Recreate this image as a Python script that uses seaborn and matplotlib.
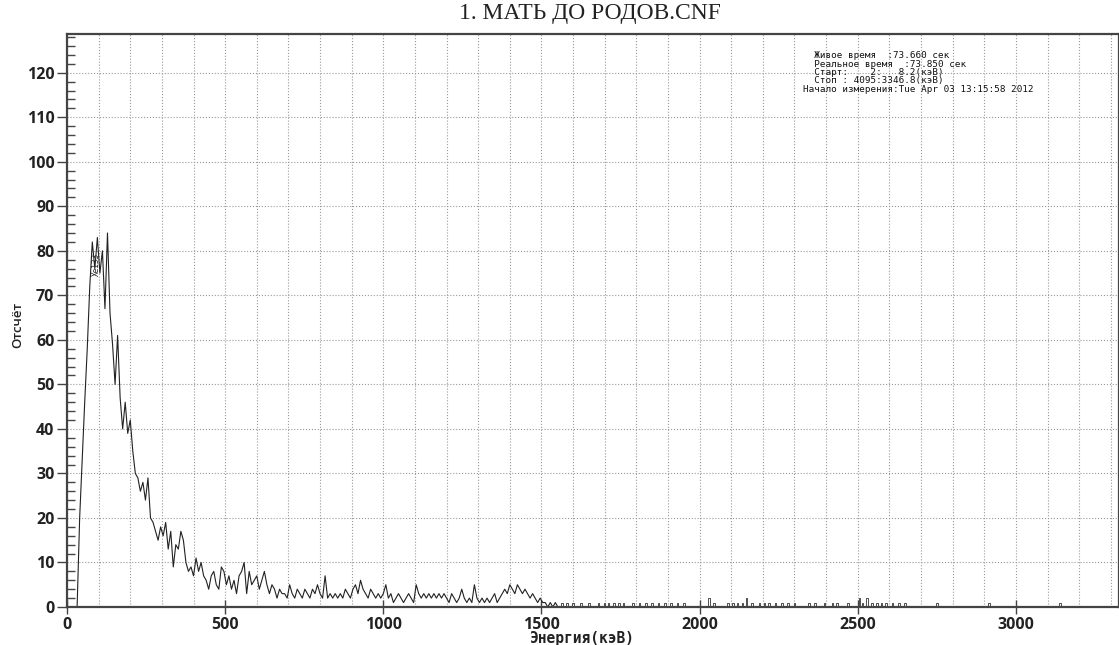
import matplotlib
matplotlib.use("Agg")
import matplotlib.pyplot as plt
import matplotlib.ticker as mticker
import numpy as np
import pandas as pd
import seaborn as sns

# spectrum, counts every 8 keV starting at 24 keV
start_kev = 24
step_kev = 8
counts = [
    0, 0, 20, 33, 46, 58, 72, 82, 76, 83, 75, 80, 67, 84, 66, 59, 50, 61, 47, 40,
    46, 39, 42, 35, 30, 29, 26, 28, 24, 29, 20, 19, 17, 15, 18, 16, 19, 13, 17, 9,
    14, 13, 17, 15, 10, 8, 9, 7, 11, 8, 10, 7, 6, 4, 7, 8, 5, 4, 9, 8,
    5, 7, 4, 6, 3, 7, 8, 10, 3, 8, 5, 6, 7, 4, 6, 8, 5, 3, 5, 4,
    2, 4, 3, 3, 2, 5, 3, 2, 4, 3, 2, 4, 3, 2, 4, 3, 5, 3, 2, 7,
    2, 3, 2, 3, 2, 3, 2, 4, 3, 2, 4, 5, 3, 6, 4, 3, 2, 4, 3, 2,
    3, 2, 3, 5, 2, 3, 1, 2, 3, 2, 1, 2, 3, 2, 1, 5, 3, 2, 3, 2,
    3, 2, 3, 2, 3, 2, 3, 2, 1, 3, 2, 1, 2, 4, 2, 1, 2, 1, 5, 2,
    1, 2, 1, 2, 1, 2, 3, 1, 2, 3, 4, 3, 5, 4, 3, 5, 4, 3, 4, 3,
    2, 3, 2, 1, 2, 1, 1, 0, 1, 0, 1, 0,
]

# sparse single-count blips in the high energy tail
blip_kev = [1565, 1580, 1600, 1625, 1650, 1680, 1700, 1712, 1730, 1745, 1760, 1790,
            1810, 1830, 1850, 1870, 1890, 1910, 1930, 1950, 2030, 2045, 2090, 2105,
            2120, 2135, 2148, 2165, 2190, 2205, 2220, 2240, 2260, 2280, 2300, 2345,
            2365, 2395, 2420, 2435, 2470, 2505, 2515, 2530, 2545, 2560, 2575, 2590,
            2610, 2630, 2650, 2750, 2915, 3140]
blip_counts = [1, 1, 1, 1, 1, 1, 1, 1, 1, 1, 1, 1,
               1, 1, 1, 1, 1, 1, 1, 1, 2, 1, 1, 1,
               1, 1, 2, 1, 1, 1, 1, 1, 1, 1, 1, 1,
               1, 1, 1, 1, 1, 2, 1, 2, 1, 1, 1, 1,
               1, 1, 1, 1, 1, 1]

info_lines = [
    "  Живое время  :73.660 сек",
    "  Реальное время  :73.850 сек",
    "  Старт:    2:   8.2(кэВ)",
    "  Стоп : 4095:3346.8(кэВ)",
    "Начало измерения:Tue Apr 03 13:15:58 2012",
]

W, H = 1119, 645

energy = start_kev + step_kev * np.arange(len(counts))
main = pd.DataFrame({"energy": energy, "counts": counts})

# tail as little rectangular pulses
tail_e, tail_c = [1552], [0]
for e, c in zip(blip_kev, blip_counts):
    tail_e += [e - 5, e, e + 5]
    tail_c += [0, c, 0]
tail_e.append(3330)
tail_c.append(0)
tail = pd.DataFrame({"energy": tail_e, "counts": tail_c})

sns.set_style("ticks")
plt.rcParams["font.family"] = ["Open Sans", "DejaVu Sans"]

fig = plt.figure(figsize=(W / 100, H / 100), dpi=100)
ax = fig.add_axes([67 / W, (H - 607) / H, (W - 67) / W, (607 - 34) / H])

sns.lineplot(data=main, x="energy", y="counts", ax=ax, color="#222222",
             linewidth=0.8, sort=False, estimator=None)
sns.lineplot(data=tail, x="energy", y="counts", ax=ax, color="#333333",
             linewidth=0.6, sort=False, estimator=None, drawstyle="steps-mid")

ax.set_xlim(0, 3326)
ax.set_ylim(0, 128.7)
ax.xaxis.set_major_locator(mticker.MultipleLocator(500))
ax.xaxis.set_minor_locator(mticker.MultipleLocator(100))
ax.yaxis.set_major_locator(mticker.MultipleLocator(10))
ax.yaxis.set_minor_locator(mticker.MultipleLocator(2))

ax.grid(which="both", axis="x", linestyle=":", color="#999999", linewidth=0.8)
ax.grid(which="major", axis="y", linestyle=":", color="#999999", linewidth=0.8)
ax.tick_params(axis="y", which="major", direction="out", length=7, width=1,
               color="#444444", labelsize=11.5, pad=2)
ax.tick_params(axis="y", which="minor", direction="in", length=6, width=1,
               color="#444444")
ax.tick_params(axis="x", which="major", direction="inout", length=10, width=1,
               color="#444444", labelsize=11.5, pad=2)
ax.tick_params(axis="x", which="minor", length=0)
for lab in ax.get_xticklabels() + ax.get_yticklabels():
    lab.set_fontweight("bold")
    lab.set_color("#222222")

for sp in ax.spines.values():
    sp.set_color("#444444")
    sp.set_linewidth(1.6)

ax.set_xlabel("")
ax.set_ylabel("")

ax.text(92, 77, "Xe133", rotation=90, fontsize=5.5, ha="center", va="center",
        family="DejaVu Sans Mono", color="#222222")

fig.text(590 / W, 1 - 14 / H, "1. МАТЬ ДО РОДОВ.CNF", ha="center", va="center",
         family="Liberation Serif", fontsize=17, color="#222222")
fig.text(582 / W, 1 - 639 / H, "Энергия(кэВ)", ha="center", va="center",
         family="DejaVu Sans Mono", fontweight="bold", fontsize=10.5, color="#222222")
fig.text(18 / W, 1 - 325 / H, "Отсчёт", rotation=90, ha="center", va="center",
         fontsize=9.5, fontweight="semibold", color="#222222")

for i, line in enumerate(info_lines):
    fig.text(803 / W, 1 - (56 + i * 8.3) / H, line, ha="left", va="center",
             family="DejaVu Sans Mono", fontsize=6.7, color="#111111")

fig.savefig("out.png", dpi=100)
